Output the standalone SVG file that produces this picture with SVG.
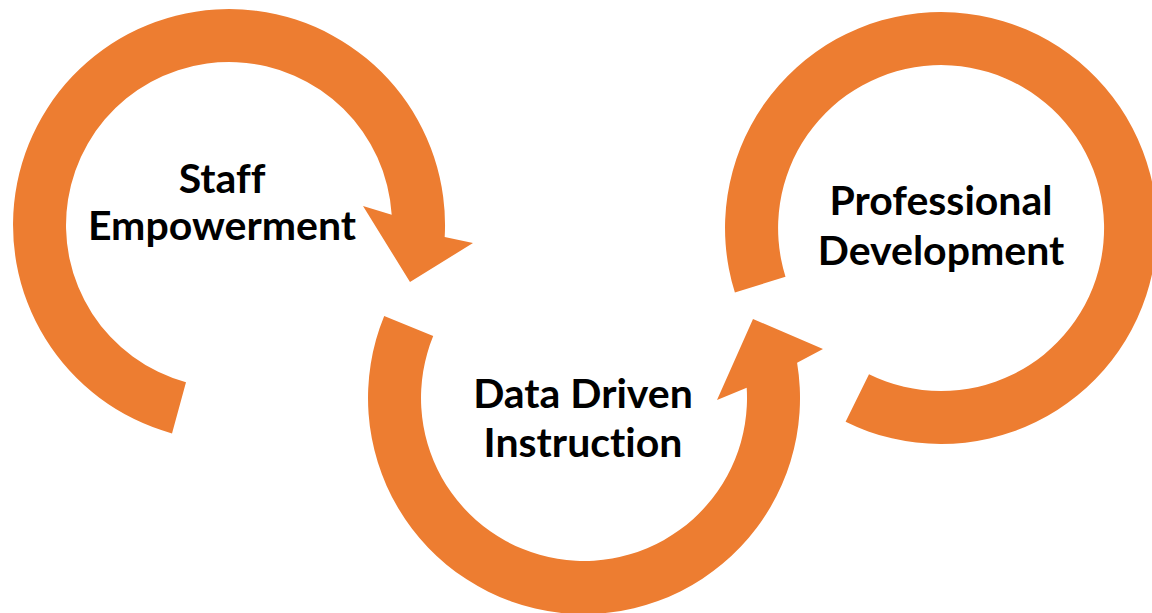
<svg xmlns="http://www.w3.org/2000/svg" width="1152" height="613" viewBox="0 0 1152 613">
<style>
.arc{fill:#ED7D31;stroke:none}
.lbl{font-family:Lato,"Open Sans","Liberation Sans",sans-serif;font-weight:700;font-size:41px;fill:#000;text-anchor:middle;font-variant-ligatures:none;font-feature-settings:"liga" 0,"clig" 0}
</style>
<rect width="1152" height="613" fill="#fff"/>
<g id="connectors">
<path id="arrow-staff" class="arc" d="M172.0,433.4 A216,216 0 1 1 444.7,237.1 L473,243 L410,282 L363,206 L391.7,214.8 A163,163 0 1 0 186.0,382.2 Z"/>
<path id="arrow-data" class="arc" d="M384.2,316.0 A216,216 0 1 0 797.1,362.7 L823,349 L753,319 L717,400 L746.7,387.8 A163,163 0 1 1 433.2,336.1 Z"/>
<path id="arc-prof" class="arc" d="M734.9,292.6 A216,216 0 1 1 845.6,421.8 L869.0,374.3 A163,163 0 1 0 785.5,276.7 Z"/>
</g>
<g id="node-staff">
<text class="lbl" x="222" y="193">Staff</text>
<text class="lbl" x="222" y="240">Empowerment</text>
</g>
<g id="node-data">
<text class="lbl" x="583" y="408">Data Driven</text>
<text class="lbl" x="583" y="457">Instruction</text>
</g>
<g id="node-prof">
<text class="lbl" x="941" y="215">Professional</text>
<text class="lbl" x="941" y="265">Development</text>
</g>
</svg>
